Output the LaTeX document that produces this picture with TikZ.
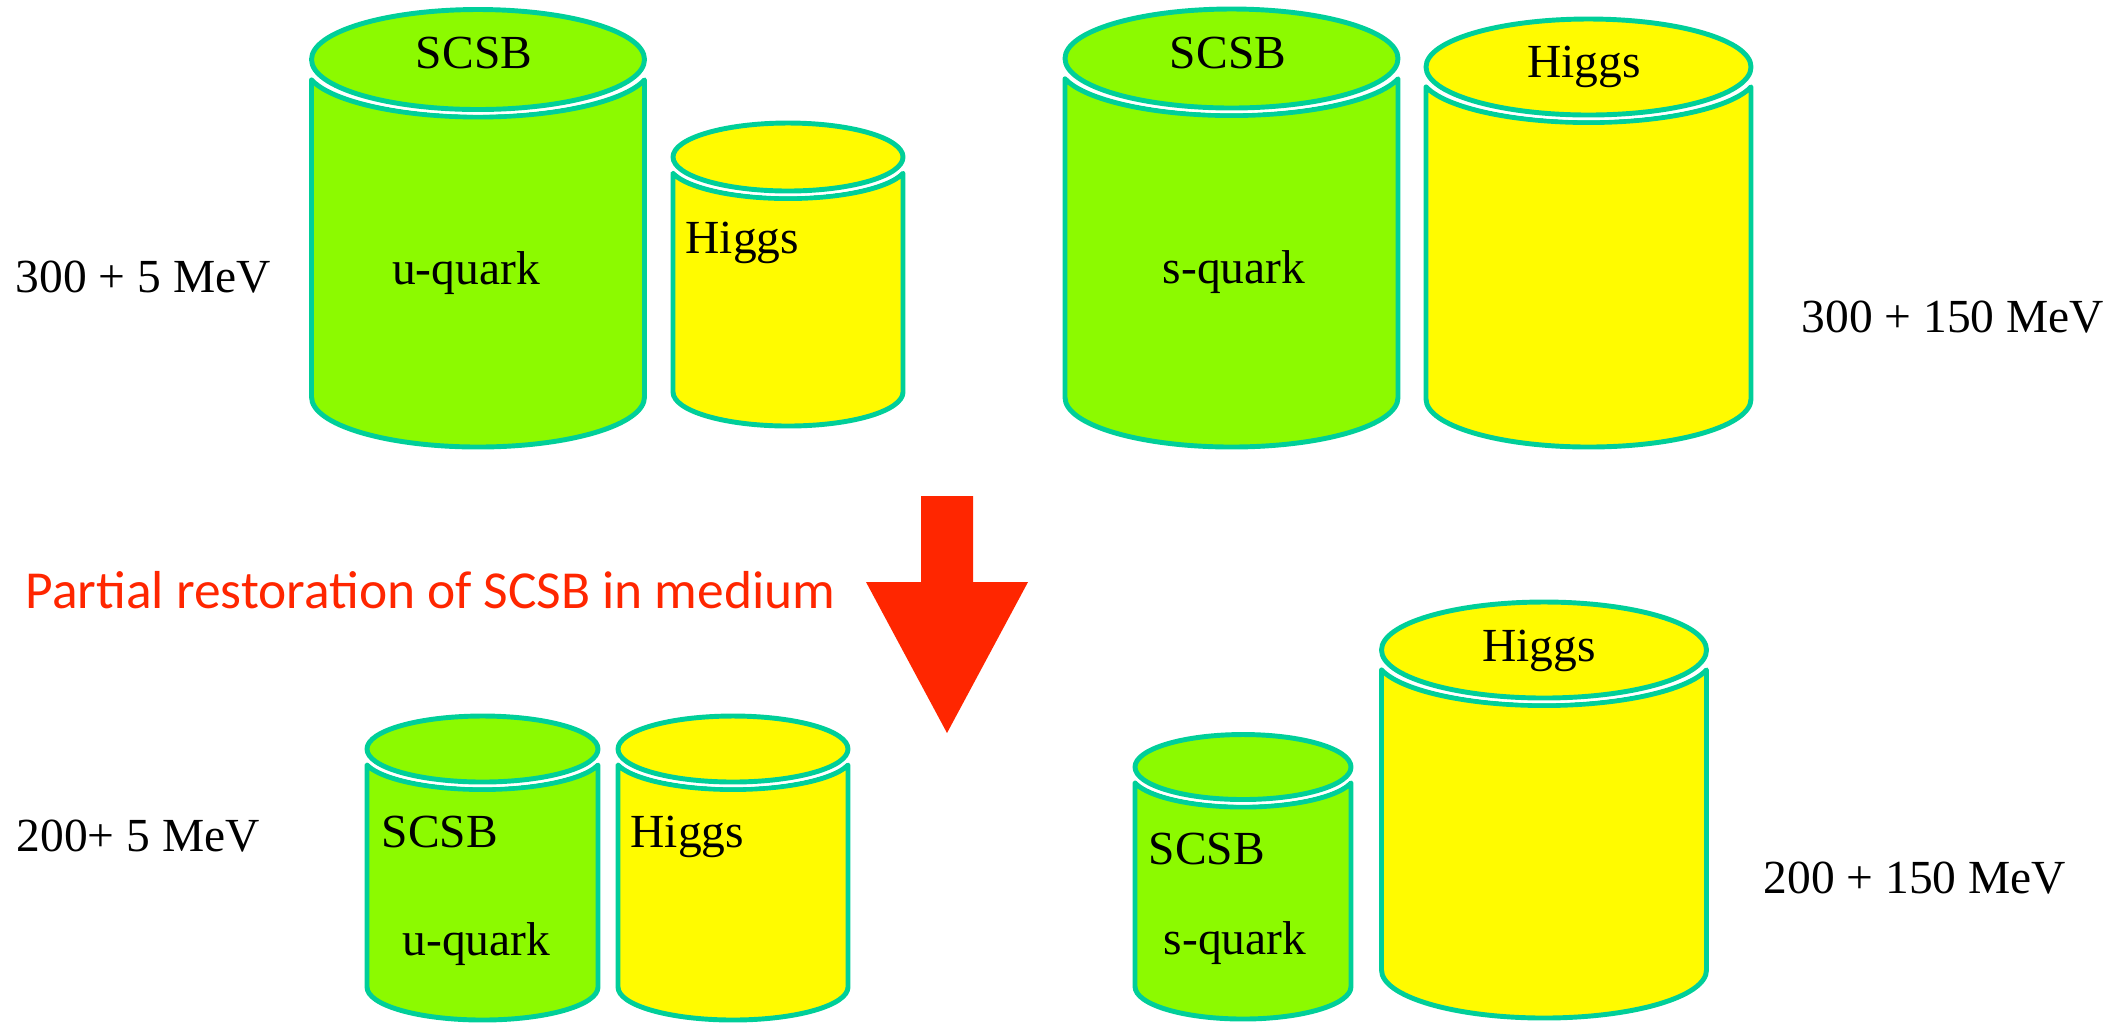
\documentclass[tikz,border=0pt]{standalone}
\usepackage{fontspec}
\usepackage{xcolor}
\setmainfont{Liberation Serif}
\newfontfamily\notefont{Carlito}
\definecolor{rim}{RGB}{0,207,153}
\definecolor{quarkgreen}{RGB}{140,250,0}
\definecolor{higgsyellow}{RGB}{255,251,0}
\definecolor{alarm}{RGB}{255,38,0}

\begin{document}
\begin{tikzpicture}[x=0.01cm, y=0.01cm]
	\tikzstyle{every node}+=[inner sep=0pt, font=\fontsize{13.5}{16}\selectfont]
	\tikzstyle{rimline}=[draw=rim, line width=1.4pt, line join=round]
	\tikzstyle{lid}=[rimline, preaction={draw=white, line width=2.9pt}]
	\useasboundingbox (0,0) rectangle (2128,-1035);
	% vacuum, u-quark
	\draw [rimline, fill=quarkgreen] (311.5,-79.9) -- (311.5,-397) arc (180:360:166.5 and 50) -- (644.5,-79.9) arc (345:195:172.37 and 50) -- cycle;
	\draw [lid, fill=quarkgreen] (478,-59.5) ellipse (166.5 and 50);
	\draw [rimline, fill=higgsyellow] (673,-173.3) -- (673,-392) arc (180:360:115 and 34) -- (903,-173.3) arc (345:195:119.06 and 34) -- cycle;
	\draw [lid, fill=higgsyellow] (788,-157) ellipse (115 and 34);
	\node [anchor=base] (scsbU) at (474,-68) {SCSB};
	\node [anchor=base] (quarkU) at (466,-284) {u-quark};
	\node [anchor=base west] (higgsU) at (685,-253) {Higgs};
	\node [anchor=base west] (massU) at (15,-292) {300 + 5 MeV};
	% vacuum, s-quark
	\draw [rimline, fill=quarkgreen] (1065,-78.8) -- (1065,-397.5) arc (180:360:166.5 and 49.5) -- (1398,-78.8) arc (345:195:172.37 and 49.5) -- cycle;
	\draw [lid, fill=quarkgreen] (1231.5,-58.5) ellipse (166.5 and 49.5);
	\draw [rimline, fill=higgsyellow] (1426,-86.9) -- (1426,-399) arc (180:360:162.5 and 48) -- (1751,-86.9) arc (345:195:168.23 and 48) -- cycle;
	\draw [lid, fill=higgsyellow] (1588.5,-67) ellipse (162.5 and 48);
	\node [anchor=base] (scsbS) at (1228,-68) {SCSB};
	\node [anchor=base] (quarkS) at (1234,-283) {s-quark};
	\node [anchor=base] (higgsS) at (1584,-77) {Higgs};
	\node [anchor=base west] (massS) at (1801,-332) {300 + 150 MeV};
	% arrow
	\fill [alarm] (921,-496) -- (973,-496) -- (973,-582) -- (1028,-582) -- (947,-733) -- (866,-582) -- (921,-582) -- cycle;
	\node [anchor=base west, text=alarm, font=\notefont\fontsize{15.2}{18}\selectfont] (restore) at (25,-608) {Partial restoration of SCSB in medium};
	% medium, u-quark
	\draw [rimline, fill=quarkgreen] (367,-765) -- (367,-987) arc (180:360:115.5 and 33) -- (598,-765) arc (345:195:119.58 and 33) -- cycle;
	\draw [lid, fill=quarkgreen] (482.5,-749) ellipse (115.5 and 33);
	\draw [rimline, fill=higgsyellow] (618,-765) -- (618,-987) arc (180:360:115 and 33) -- (848,-765) arc (345:195:119.06 and 33) -- cycle;
	\draw [lid, fill=higgsyellow] (733,-749) ellipse (115 and 33);
	\node [anchor=base west] (scsbUm) at (381,-847) {SCSB};
	\node [anchor=base west] (quarkUm) at (402,-955) {u-quark};
	\node [anchor=base west] (higgsUm) at (630,-847) {Higgs};
	\node [anchor=base west] (massUm) at (16,-851) {200+ 5 MeV};
	% medium, s-quark
	\draw [rimline, fill=quarkgreen] (1135,-782.9) -- (1135,-986.5) arc (180:360:108 and 32.5) -- (1351,-782.9) arc (345:195:111.81 and 32.5) -- cycle;
	\draw [lid, fill=quarkgreen] (1243,-767) ellipse (108 and 32.5);
	\draw [rimline, fill=higgsyellow] (1381.5,-669.9) -- (1381.5,-970) arc (180:360:162.5 and 48) -- (1706.5,-669.9) arc (345:195:168.23 and 48) -- cycle;
	\draw [lid, fill=higgsyellow] (1544,-650) ellipse (162.5 and 48);
	\node [anchor=base west] (scsbSm) at (1148,-864) {SCSB};
	\node [anchor=base west] (quarkSm) at (1163,-954) {s-quark};
	\node [anchor=base] (higgsSm) at (1539,-661) {Higgs};
	\node [anchor=base west] (massSm) at (1763,-893) {200 + 150 MeV};
\end{tikzpicture}
\end{document}
